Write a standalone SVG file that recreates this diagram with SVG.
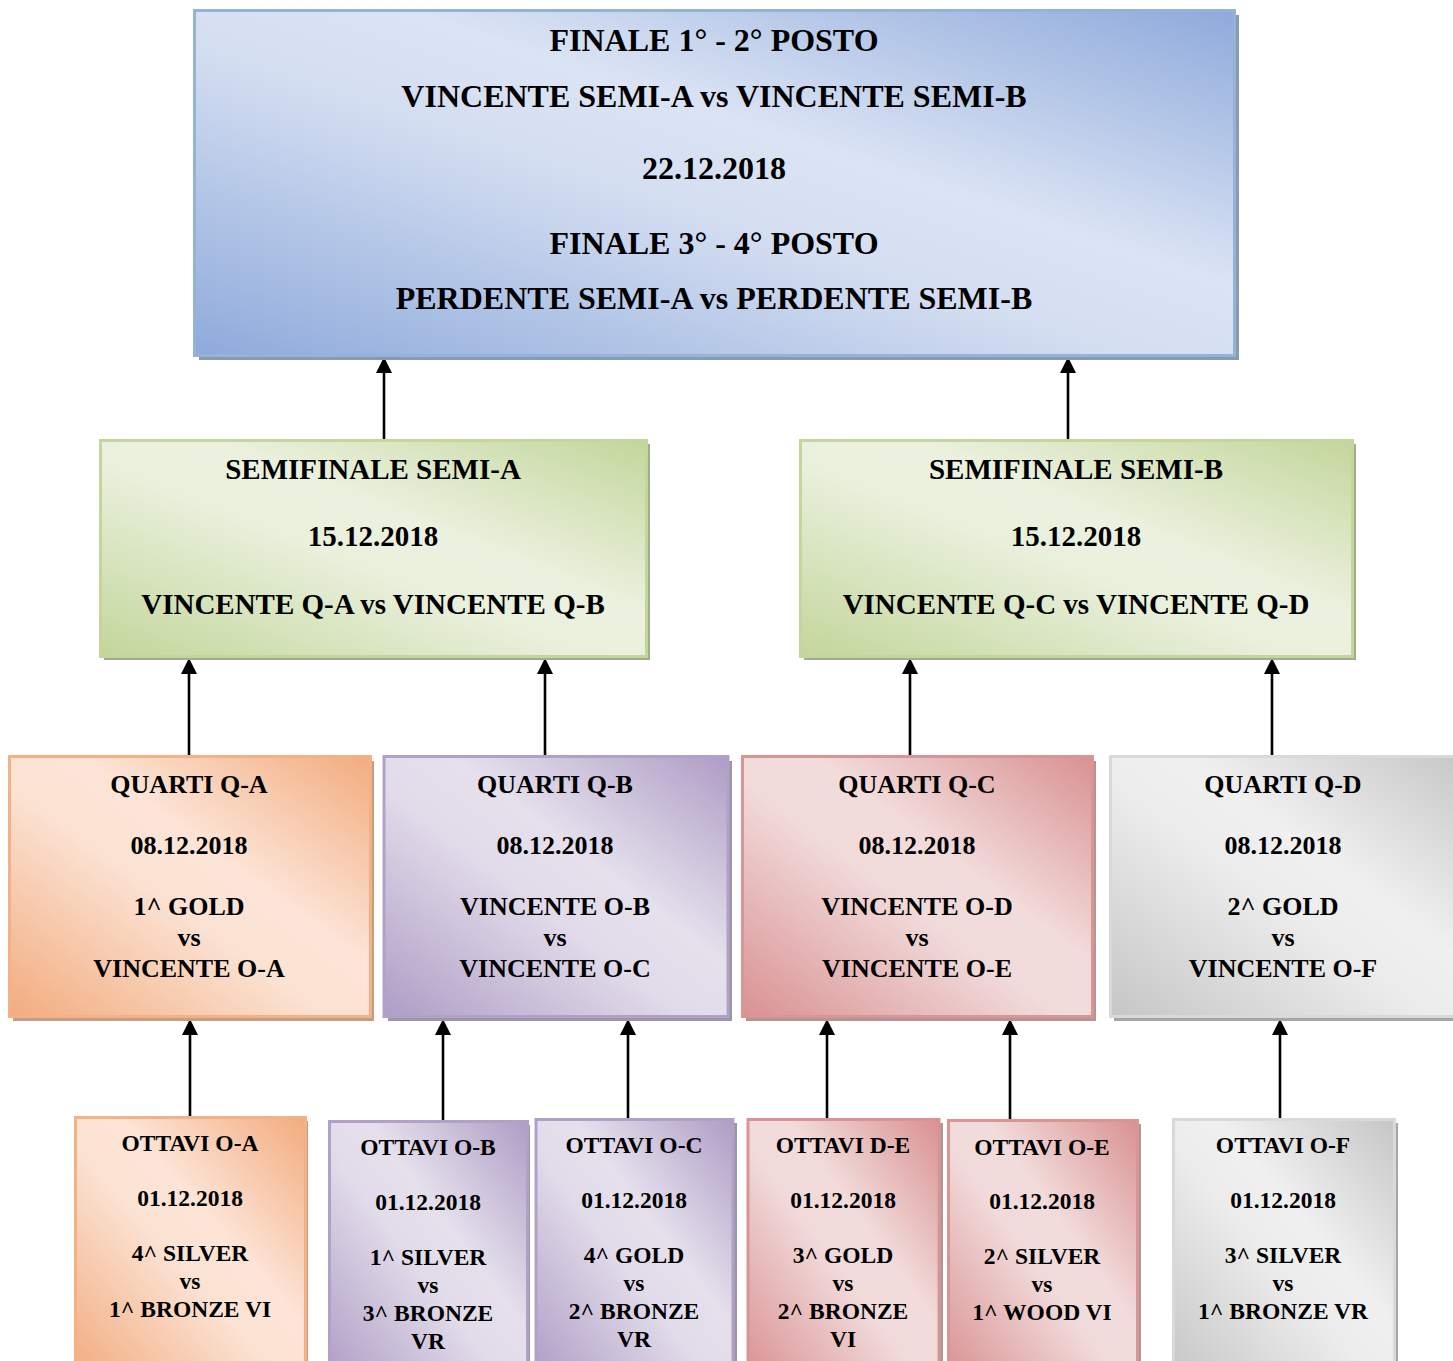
<svg xmlns="http://www.w3.org/2000/svg" width="1453" height="1361" viewBox="0 0 1453 1361">
<defs>
<style>
text{font-family:"Liberation Serif","Times New Roman",serif;font-weight:bold;fill:#000;text-anchor:middle}
.t1{font-size:32px}
.t2{font-size:29px}
.t3{font-size:26px}
.t4{font-size:23.5px}
.conn{stroke:#000;stroke-width:2.6;fill:none;marker-end:url(#ah)}
.b-blue{fill:url(#gBlue);stroke:#95b3d7;stroke-width:3}
.b-green{fill:url(#gGreen);stroke:#c3d69b;stroke-width:3}
.b-orange{fill:url(#gOrange);stroke:#f4b183;stroke-width:3}
.b-purple{fill:url(#gPurple);stroke:#b2a1c7;stroke-width:3}
.b-red{fill:url(#gRed);stroke:#d99594;stroke-width:3}
.b-gray{fill:url(#gGray);stroke:#d9d9d9;stroke-width:3}
.s-blue{fill:#8a9ab5}.s-green{fill:#a2ad8e}.s-orange{fill:#c39d84}.s-purple{fill:#9d96a8}.s-red{fill:#b49494}.s-gray{fill:#a6a6a6}
</style>
<linearGradient id="gBlue" x1="0" y1="1" x2="1" y2="0"><stop offset="0" stop-color="#8eaadb"/><stop offset="0.45" stop-color="#d4def1"/><stop offset="0.6" stop-color="#dbe4f4"/><stop offset="1" stop-color="#8eaadb"/></linearGradient>
<linearGradient id="gGreen" x1="0" y1="1" x2="1" y2="0"><stop offset="0" stop-color="#c3d69b"/><stop offset="0.45" stop-color="#e9f0dc"/><stop offset="0.6" stop-color="#ebf1de"/><stop offset="1" stop-color="#c3d69b"/></linearGradient>
<linearGradient id="gOrange" x1="0" y1="1" x2="1" y2="0"><stop offset="0" stop-color="#f2ac7e"/><stop offset="0.45" stop-color="#fbe3d4"/><stop offset="0.6" stop-color="#fce4d6"/><stop offset="1" stop-color="#f2ac7e"/></linearGradient>
<linearGradient id="gPurple" x1="0" y1="1" x2="1" y2="0"><stop offset="0" stop-color="#ae9dc5"/><stop offset="0.45" stop-color="#e2dcea"/><stop offset="0.6" stop-color="#e5e0ec"/><stop offset="1" stop-color="#ae9dc5"/></linearGradient>
<linearGradient id="gRed" x1="0" y1="1" x2="1" y2="0"><stop offset="0" stop-color="#d99192"/><stop offset="0.45" stop-color="#f1dada"/><stop offset="0.6" stop-color="#f2dcdb"/><stop offset="1" stop-color="#d99192"/></linearGradient>
<linearGradient id="gGray" x1="0" y1="1" x2="1" y2="0"><stop offset="0" stop-color="#c6c6c6"/><stop offset="0.45" stop-color="#ececec"/><stop offset="0.6" stop-color="#f0f0f0"/><stop offset="1" stop-color="#c6c6c6"/></linearGradient>
<marker id="ah" markerUnits="userSpaceOnUse" markerWidth="16" markerHeight="16" viewBox="0 0 16 16" refX="0" refY="8" orient="auto"><path d="M0,0 L16,8 L0,16 Z" fill="#000"/></marker>
</defs>

<g id="connectors">
<line class="conn" x1="384" y1="440" x2="384" y2="373"/>
<line class="conn" x1="1068" y1="440" x2="1068" y2="373"/>
<line class="conn" x1="189" y1="756" x2="189" y2="674"/>
<line class="conn" x1="545" y1="756" x2="545" y2="674"/>
<line class="conn" x1="910" y1="756" x2="910" y2="674"/>
<line class="conn" x1="1272" y1="756" x2="1272" y2="674"/>
<line class="conn" x1="190" y1="1117" x2="190" y2="1035"/>
<line class="conn" x1="443" y1="1121" x2="443" y2="1035"/>
<line class="conn" x1="628" y1="1119" x2="628" y2="1035"/>
<line class="conn" x1="827" y1="1119" x2="827" y2="1035"/>
<line class="conn" x1="1010" y1="1120" x2="1010" y2="1035"/>
<line class="conn" x1="1280" y1="1119" x2="1280" y2="1035"/>
</g>

<g id="finale">
<rect class="s-blue" x="199" y="15" width="1040" height="345"/>
<rect class="b-blue" x="194.5" y="10.5" width="1040" height="345"/>
<text class="t1" x="714" y="51">FINALE 1° - 2° POSTO</text>
<text class="t1" x="714" y="107">VINCENTE SEMI-A vs VINCENTE SEMI-B</text>
<text class="t1" x="714" y="179">22.12.2018</text>
<text class="t1" x="714" y="254">FINALE 3° - 4° POSTO</text>
<text class="t1" x="714" y="309">PERDENTE SEMI-A vs PERDENTE SEMI-B</text>
</g>

<g id="semi-a">
<rect class="s-green" x="104" y="444" width="546" height="216"/>
<rect class="b-green" x="100.5" y="440.5" width="546" height="216"/>
<text class="t2" x="373" y="479">SEMIFINALE SEMI-A</text>
<text class="t2" x="373" y="546">15.12.2018</text>
<text class="t2" x="373" y="614">VINCENTE Q-A vs VINCENTE Q-B</text>
</g>

<g id="semi-b">
<rect class="s-green" x="804" y="444" width="552" height="216"/>
<rect class="b-green" x="800.5" y="440.5" width="552" height="216"/>
<text class="t2" x="1076" y="479">SEMIFINALE SEMI-B</text>
<text class="t2" x="1076" y="546">15.12.2018</text>
<text class="t2" x="1076" y="614">VINCENTE Q-C vs VINCENTE Q-D</text>
</g>

<g id="quarti-qa">
<rect class="s-orange" x="13" y="761" width="361" height="260"/>
<rect class="b-orange" x="9.5" y="756.5" width="361" height="260"/>
<text class="t3" x="189" y="793">QUARTI Q-A</text>
<text class="t3" x="189" y="854">08.12.2018</text>
<text class="t3" x="189" y="915">1^ GOLD</text>
<text class="t3" x="189" y="946">vs</text>
<text class="t3" x="189" y="977">VINCENTE O-A</text>
</g>

<g id="quarti-qb">
<rect class="s-purple" x="388" y="761" width="344" height="260"/>
<rect class="b-purple" x="384" y="756.5" width="344" height="260"/>
<text class="t3" x="555" y="793">QUARTI Q-B</text>
<text class="t3" x="555" y="854">08.12.2018</text>
<text class="t3" x="555" y="915">VINCENTE O-B</text>
<text class="t3" x="555" y="946">vs</text>
<text class="t3" x="555" y="977">VINCENTE O-C</text>
</g>

<g id="quarti-qc">
<rect class="s-red" x="746" y="761" width="350" height="260"/>
<rect class="b-red" x="742.5" y="756.5" width="350" height="260"/>
<text class="t3" x="917" y="793">QUARTI Q-C</text>
<text class="t3" x="917" y="854">08.12.2018</text>
<text class="t3" x="917" y="915">VINCENTE O-D</text>
<text class="t3" x="917" y="946">vs</text>
<text class="t3" x="917" y="977">VINCENTE O-E</text>
</g>

<g id="quarti-qd">
<rect class="s-gray" x="1114" y="761" width="360" height="260"/>
<rect class="b-gray" x="1110.5" y="756.5" width="360" height="260"/>
<text class="t3" x="1283" y="793">QUARTI Q-D</text>
<text class="t3" x="1283" y="854">08.12.2018</text>
<text class="t3" x="1283" y="915">2^ GOLD</text>
<text class="t3" x="1283" y="946">vs</text>
<text class="t3" x="1283" y="977">VINCENTE O-F</text>
</g>

<g id="ottavi-oa">
<rect class="s-orange" x="78" y="1121" width="230" height="260"/>
<rect class="b-orange" x="75.5" y="1117.5" width="230" height="260"/>
<text class="t4" x="190" y="1151">OTTAVI O-A</text>
<text class="t4" x="190" y="1206">01.12.2018</text>
<text class="t4" x="190" y="1261">4^ SILVER</text>
<text class="t4" x="190" y="1289">vs</text>
<text class="t4" x="190" y="1317">1^ BRONZE VI</text>
</g>

<g id="ottavi-ob">
<rect class="s-purple" x="332" y="1125" width="198" height="260"/>
<rect class="b-purple" x="329.5" y="1121.5" width="198" height="260"/>
<text class="t4" x="428" y="1155">OTTAVI O-B</text>
<text class="t4" x="428" y="1210">01.12.2018</text>
<text class="t4" x="428" y="1265">1^ SILVER</text>
<text class="t4" x="428" y="1293">vs</text>
<text class="t4" x="428" y="1321">3^ BRONZE</text>
<text class="t4" x="428" y="1349">VR</text>
</g>

<g id="ottavi-oc">
<rect class="s-purple" x="539" y="1123" width="198" height="260"/>
<rect class="b-purple" x="536" y="1119.5" width="197" height="260"/>
<text class="t4" x="634" y="1153">OTTAVI O-C</text>
<text class="t4" x="634" y="1208">01.12.2018</text>
<text class="t4" x="634" y="1263">4^ GOLD</text>
<text class="t4" x="634" y="1291">vs</text>
<text class="t4" x="634" y="1319">2^ BRONZE</text>
<text class="t4" x="634" y="1347">VR</text>
</g>

<g id="ottavi-de">
<rect class="s-red" x="751" y="1123" width="192" height="260"/>
<rect class="b-red" x="748" y="1119.5" width="191" height="260"/>
<text class="t4" x="843" y="1153">OTTAVI D-E</text>
<text class="t4" x="843" y="1208">01.12.2018</text>
<text class="t4" x="843" y="1263">3^ GOLD</text>
<text class="t4" x="843" y="1291">vs</text>
<text class="t4" x="843" y="1319">2^ BRONZE</text>
<text class="t4" x="843" y="1347">VI</text>
</g>

<g id="ottavi-oe">
<rect class="s-red" x="951" y="1124" width="190" height="260"/>
<rect class="b-red" x="948.5" y="1120.5" width="189" height="260"/>
<text class="t4" x="1042" y="1155">OTTAVI O-E</text>
<text class="t4" x="1042" y="1209">01.12.2018</text>
<text class="t4" x="1042" y="1264">2^ SILVER</text>
<text class="t4" x="1042" y="1292">vs</text>
<text class="t4" x="1042" y="1320">1^ WOOD VI</text>
</g>

<g id="ottavi-of">
<rect class="s-gray" x="1176" y="1123" width="222" height="260"/>
<rect class="b-gray" x="1173.5" y="1119.5" width="221" height="260"/>
<text class="t4" x="1283" y="1153">OTTAVI O-F</text>
<text class="t4" x="1283" y="1208">01.12.2018</text>
<text class="t4" x="1283" y="1263">3^ SILVER</text>
<text class="t4" x="1283" y="1291">vs</text>
<text class="t4" x="1283" y="1319">1^ BRONZE VR</text>
</g>
</svg>
